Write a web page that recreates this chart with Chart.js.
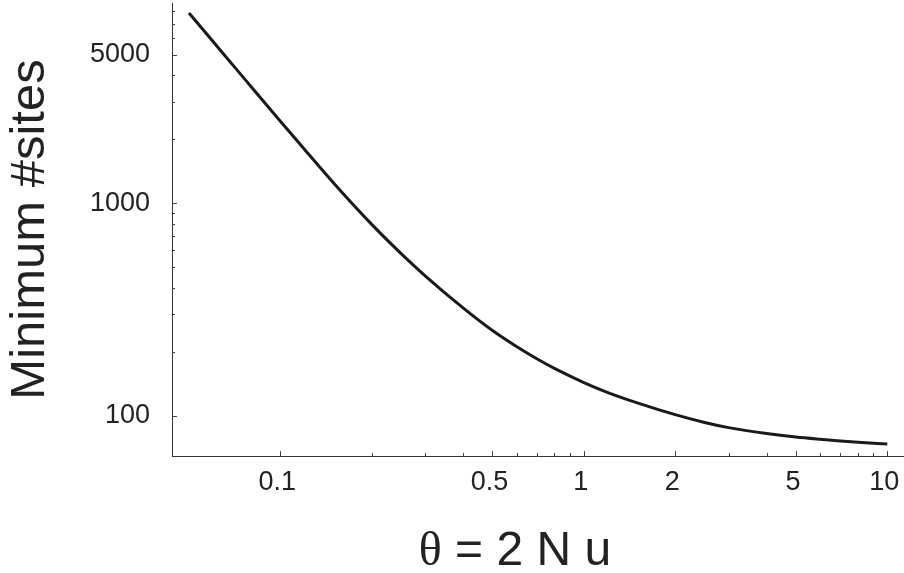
<!DOCTYPE html>
<html>
<head>
<meta charset="utf-8">
<script src="https://cdn.jsdelivr.net/npm/chart.js@4.4.1/dist/chart.umd.min.js"></script>
<style>
  html, body { margin: 0; padding: 0; background: #fff; }
  #wrap { width: 904px; height: 573px; }
</style>
</head>
<body>
<div id="wrap"><canvas id="chart" width="904" height="573"></canvas></div>
<script>
// theta = 2Nu and the minimum number of sites
const thetaValues = [0.05, 0.06, 0.07, 0.08, 0.1, 0.12, 0.15, 0.2, 0.25, 0.3, 0.4, 0.5, 0.6, 0.7, 0.8, 1, 1.2, 1.5, 2, 2.5, 3, 4, 5, 6, 7, 8, 10];
const minSites = [7850, 5760, 4440, 3543, 2430, 1796, 1243, 796, 580, 456, 322, 252, 212, 185.6, 167.2, 143.5, 128.8, 115.2, 101.4, 93.2, 88.1, 82.7, 79.6, 77.7, 76.3, 75.2, 73.7];

// tick marks (drawn inside the frame) and the ones that get a label
const xTickValues = [0.1, 0.2, 0.3, 0.4, 0.5, 0.6, 0.7, 0.8, 0.9, 1, 2, 3, 4, 5, 6, 7, 8, 9, 10];
const xLabeledTicks = [0.1, 0.5, 1, 2, 5, 10];
const yTickValues = [100, 200, 300, 400, 500, 600, 700, 800, 900, 1000, 2000, 3000, 4000, 5000, 6000, 7000, 8000];
const yLabeledTicks = [100, 1000, 5000];

const FONT = "'Liberation Sans', Arial, Helvetica, sans-serif";

// Mathematica-style ticks pointing into the plot
const innerTicks = {
    id: 'innerTicks',
    afterDraw(chart) {
        const {ctx, chartArea, scales} = chart;
        ctx.save();
        ctx.strokeStyle = '#444';
        ctx.lineWidth = 1;
        ctx.beginPath();
        xTickValues.forEach(v => {
            const px = Math.round(scales.x.getPixelForValue(v)) + 0.5;
            const len = xLabeledTicks.includes(v) ? 5 : 3;
            ctx.moveTo(px, chartArea.bottom);
            ctx.lineTo(px, chartArea.bottom - len);
        });
        yTickValues.forEach(v => {
            const py = Math.round(scales.y.getPixelForValue(v)) + 0.5;
            const len = yLabeledTicks.includes(v) ? 5 : 3;
            ctx.moveTo(chartArea.left, py);
            ctx.lineTo(chartArea.left + len, py);
        });
        ctx.stroke();
        ctx.restore();
    }
};

// x axis title: serif theta followed by sans text
const xTitle = {
    id: 'xTitle',
    afterDraw(chart) {
        const ctx = chart.ctx;
        const theta = '\u03B8';
        const rest = ' = 2 N u';
        const serif = "48px 'Liberation Serif', 'DejaVu Serif', serif";
        ctx.save();
        ctx.fillStyle = '#222';
        ctx.textBaseline = 'alphabetic';
        ctx.textAlign = 'left';
        ctx.font = serif;
        const w1 = ctx.measureText(theta).width;
        ctx.font = '48px ' + FONT;
        const w2 = ctx.measureText(rest).width;
        const start = 515 - (w1 + w2) / 2;
        ctx.font = serif;
        ctx.fillText(theta, start, 565);
        ctx.font = '48px ' + FONT;
        ctx.fillText(rest, start + w1, 565);
        ctx.restore();
    }
};

const ctx = document.getElementById('chart').getContext('2d');
new Chart(ctx, {
    type: 'line',
    data: {
        datasets: [{
            data: thetaValues.map((t, i) => ({x: t, y: minSites[i]})),
            borderColor: '#1a1a1a',
            borderWidth: 3,
            pointRadius: 0,
            cubicInterpolationMode: 'monotone',
            fill: false
        }]
    },
    options: {
        responsive: false,
        animation: false,
        layout: { padding: { top: 3, right: 0, bottom: 0, left: 0 } },
        plugins: {
            legend: { display: false },
            tooltip: { enabled: false }
        },
        scales: {
            x: {
                type: 'logarithmic',
                min: 0.04395,
                max: 11.35,
                afterBuildTicks: scale => { scale.ticks = xLabeledTicks.map(v => ({value: v})); },
                afterFit: scale => {
                    scale.height = 117;
                    scale.paddingLeft = 0;
                    scale.paddingRight = 0;
                },
                grid: { display: false, drawTicks: false },
                border: { display: true, color: '#333', width: 1 },
                ticks: {
                    autoSkip: false,
                    maxRotation: 0,
                    padding: 10,
                    labelOffset: -3,
                    color: '#222',
                    font: { family: FONT, size: 27 },
                    callback: value => String(value)
                }
            },
            y: {
                type: 'logarithmic',
                min: 64.8,
                max: 8745,
                afterBuildTicks: scale => { scale.ticks = yLabeledTicks.map(v => ({value: v})); },
                afterFit: scale => {
                    scale.width = 172;
                    scale.paddingTop = 0;
                    scale.paddingBottom = 0;
                },
                grid: { display: false, drawTicks: false },
                border: { display: true, color: '#333', width: 1 },
                ticks: {
                    autoSkip: false,
                    padding: 22,
                    color: '#222',
                    font: { family: FONT, size: 27 },
                    callback: value => String(value)
                },
                title: {
                    display: true,
                    text: 'Minimum #sites',
                    color: '#222',
                    font: { family: FONT, size: 49 },
                    padding: { top: 1, bottom: 0 }
                }
            }
        }
    },
    plugins: [innerTicks, xTitle]
});
</script>
</body>
</html>
